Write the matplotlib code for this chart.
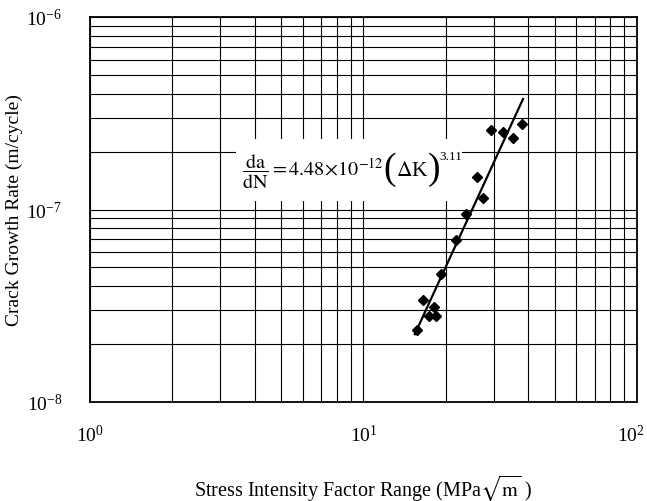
import matplotlib
matplotlib.use("Agg")
import matplotlib.pyplot as plt
from matplotlib.patches import Rectangle
from matplotlib.transforms import ScaledTranslation

plt.rcParams['font.family'] = ['Liberation Serif', 'DejaVu Serif']
plt.rcParams['mathtext.fontset'] = 'stix'

# ===== Dados =====
delta_k = [15.7, 16.5, 17.4, 18.1, 18.4, 19.2, 21.7, 23.8, 25.9, 27.4,
           29.3, 32.3, 35.1, 38.0]
dadn = [2.38e-8, 3.38e-8, 2.79e-8, 3.10e-8, 2.81e-8, 4.62e-8, 6.97e-8,
        9.48e-8, 1.48e-7, 1.15e-7, 2.59e-7, 2.54e-7, 2.36e-7, 2.78e-7]

# extremos da reta de ajuste
fit_x = [15.4, 38.3]
fit_y = [2.25e-8, 3.75e-7]

x_ticks = [1, 10, 100]
y_ticks = [1e-8, 1e-7, 1e-6]

# ===== Plotagem =====
fig = plt.figure(figsize=(6.47, 5.02), dpi=100)
ax = fig.add_axes([90/647, 99/502, 547/647, 385/502])

ax.set_xscale('log')
ax.set_yscale('log')
ax.set_xlim(1, 100)
ax.set_ylim(1e-8, 1e-6)
ax.set_xticks(x_ticks)
ax.set_yticks(y_ticks)

ax.grid(True, which='both', color='black', linewidth=0.8)
ax.tick_params(which='both', length=0, labelsize=14)
ax.tick_params(axis='y', pad=20)
ax.tick_params(axis='x', pad=16)
for s in ax.spines.values():
    s.set_linewidth(1.3)

# o rótulo 10^2 fica um pouco à esquerda, como no original
ultimo = ax.get_xticklabels()[-1]
ultimo.set_transform(ultimo.get_transform() +
                     ScaledTranslation(-6/100, 0, fig.dpi_scale_trans))

# fundo branco atrás da equação
ax.add_patch(Rectangle((0.267, 0.522), 0.413, 0.161, transform=ax.transAxes,
                       facecolor='white', edgecolor='none', zorder=2.5))

# equação montada por partes (parênteses grandes)
kw = dict(transform=ax.transAxes, va='center', zorder=3)
ax.text(0.278, 0.600, r'$\dfrac{\mathrm{da}}{\mathrm{dN}}=4.48\!\times\!10^{-12}$',
        fontsize=14.5, ha='left', **kw)
ax.text(0.548, 0.606, '(', fontsize=27, ha='center', **kw)
ax.text(0.560, 0.600, r'$\Delta$K', fontsize=15.5, ha='left', **kw)
ax.text(0.628, 0.606, ')', fontsize=27, ha='center', **kw)
ax.text(0.639, 0.640, '3.11', fontsize=9.5, ha='left', **kw)

ax.plot(fit_x, fit_y, color='black', linewidth=1.6, zorder=4)
ax.plot(delta_k, dadn, linestyle='none', marker='D', markersize=5.5,
        color='black', zorder=5)

ax.set_xlabel(r'Stress Intensity Factor Range (MPa$\sqrt{\mathrm{m}}$ )',
              fontsize=14.5, va='center')
ax.xaxis.set_label_coords(0.5, -0.221)
ax.set_ylabel('Crack Growth Rate (m/cycle)', fontsize=14, va='center')
ax.yaxis.set_label_coords(-0.139, 0.5)

fig.savefig('out.png', dpi=100)
